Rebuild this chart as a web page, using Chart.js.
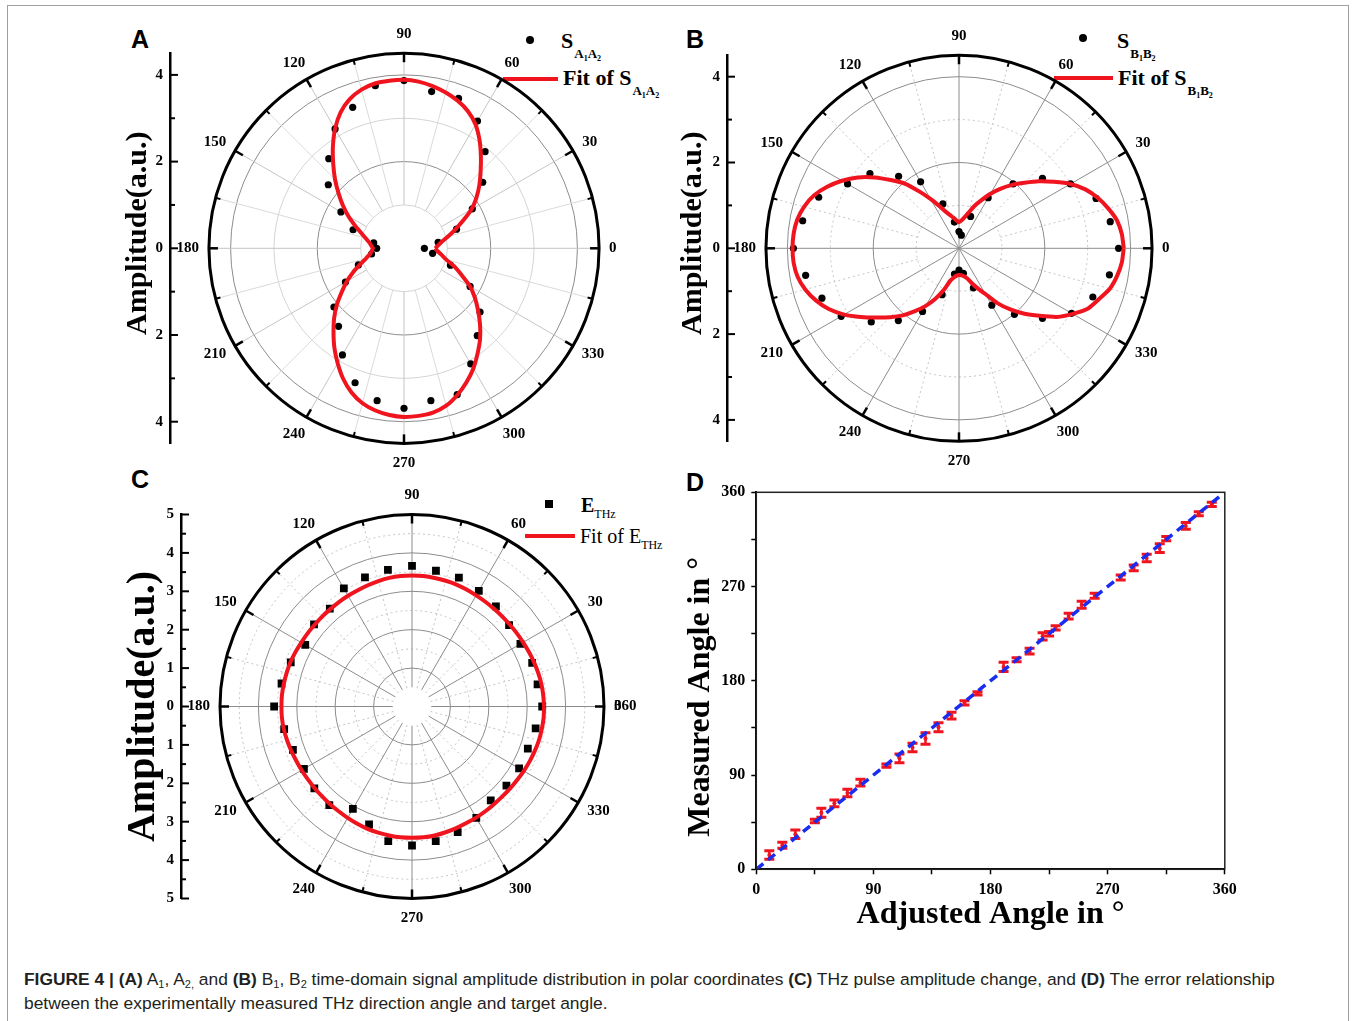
<!DOCTYPE html>
<html>
<head>
<meta charset="utf-8">
<title>Figure 4</title>
<script src="https://cdn.jsdelivr.net/npm/chart.js@4.4.1/dist/chart.umd.min.js"></script>
<style>
  html, body { margin: 0; padding: 0; background: #fff; }
  #page { position: relative; width: 1356px; height: 1021px; overflow: hidden; background: #fff; }
  #page canvas { position: absolute; }
  .frame { position: absolute; left: 7px; top: 5px; width: 1340px; height: 1100px; border: 1px solid #a0a0a0; }
  .tag { position: absolute; font: bold 25px/25px "Liberation Sans", Arial, sans-serif; color: #000; }
  .lg { position: absolute; font-family: "Liberation Serif", serif; font-weight: bold; font-size: 22px; line-height: 22px; white-space: nowrap; color: #000; }
  .lg.small { font-size: 20px; line-height: 20px; }
  .lg.thin { font-weight: normal; }
  .lg .s1 { font-size: 13px; position: relative; top: 10px; margin-left: 1px; }
  .lg .s2 { font-size: 8px; position: relative; top: 3px; }
  .lg .s3 { font-size: 12px; font-weight: normal; position: relative; top: 6px; }
  .mk { position: absolute; background: #000; }
  .fitline { position: absolute; height: 4px; background: #f0141e; }
  .cap { position: absolute; left: 24px; top: 967px; font-family: "Liberation Sans Narrow", "Liberation Sans", sans-serif; font-size: 17.4px; line-height: 24px; color: #231f20; white-space: nowrap; }
  .cap sub { font-size: 11px; vertical-align: -3px; line-height: 0; }
</style>
</head>
<body>
<div id="page">
  <div class="frame"></div>

  <div class="tag" style="left:131px; top:27px;">A</div>
  <div class="tag" style="left:686px; top:27px;">B</div>
  <div class="tag" style="left:131px; top:467px;">C</div>
  <div class="tag" style="left:686px; top:470px;">D</div>

  <!-- legend A -->
  <div class="mk" style="left:526px; top:36px; width:8px; height:8px; border-radius:50%;"></div>
  <div class="lg" style="left:561px; top:30px;">S<span class="s1">A<span class="s2">1</span>A<span class="s2">2</span></span></div>
  <div class="fitline" style="left:503px; top:77px; width:55px;"></div>
  <div class="lg" style="left:563px; top:67px;">Fit of S<span class="s1">A<span class="s2">1</span>A<span class="s2">2</span></span></div>

  <!-- legend B -->
  <div class="mk" style="left:1079px; top:34px; width:8px; height:8px; border-radius:50%;"></div>
  <div class="lg" style="left:1117px; top:30px;">S<span class="s1">B<span class="s2">1</span>B<span class="s2">2</span></span></div>
  <div class="fitline" style="left:1054px; top:76px; width:59px;"></div>
  <div class="lg" style="left:1118px; top:67px;">Fit of S<span class="s1">B<span class="s2">1</span>B<span class="s2">2</span></span></div>

  <!-- legend C -->
  <div class="mk" style="left:545px; top:500px; width:8px; height:8px;"></div>
  <div class="lg small" style="left:581px; top:495px;">E<span class="s3">THz</span></div>
  <div class="fitline" style="left:525px; top:534px; width:50px;"></div>
  <div class="lg small thin" style="left:580px; top:526px;">Fit of E<span class="s3">THz</span></div>

  <div class="cap"><b>FIGURE 4 | (A)</b> A<sub>1</sub>, A<sub>2,</sub> and <b>(B)</b> B<sub>1</sub>, B<sub>2</sub> time-domain signal amplitude distribution in polar coordinates <b>(C)</b> THz pulse amplitude change, and <b>(D)</b> The error relationship<br>between the experimentally measured THz direction angle and target angle.</div>
</div>

<script>
// ---- data ----
// measured points: one every 10 degrees
const anglesPts = [0, 10, 20, 30, 40, 50, 60, 70, 80, 90, 100, 110, 120, 130, 140, 150, 160, 170,
  180, 190, 200, 210, 220, 230, 240, 250, 260, 270, 280, 290, 300, 310, 320, 330, 340, 350];
// fitted curves: read every 5 degrees
const anglesFit = [0, 5, 10, 15, 20, 25, 30, 35, 40, 45, 50, 55, 60, 65, 70, 75, 80, 85,
  90, 95, 100, 105, 110, 115, 120, 125, 130, 135, 140, 145, 150, 155, 160, 165, 170, 175,
  180, 185, 190, 195, 200, 205, 210, 215, 220, 225, 230, 235, 240, 245, 250, 255, 260, 265,
  270, 275, 280, 285, 290, 295, 300, 305, 310, 315, 320, 325, 330, 335, 340, 345, 350, 355];
const angleLabels = [0, 30, 60, 90, 120, 150, 180, 210, 240, 270, 300, 330];

// (A) S_A1A2
const ampA = [0.47, 0.80, 1.29, 1.82, 2.37, 2.91, 3.39, 3.68, 3.67, 3.87, 3.81, 3.46, 3.18, 2.70, 2.28, 1.68, 1.25, 0.71,
  0.63, 0.76, 1.12, 1.56, 2.11, 2.35, 2.84, 3.30, 3.57, 3.69, 3.57, 3.59, 3.08, 2.63, 2.29, 1.76, 1.14, 0.67];
const fitA = [0.72, 0.79, 0.89, 1.05, 1.25, 1.50, 1.80, 2.04, 2.27, 2.50, 2.76, 3.04, 3.30, 3.49, 3.62, 3.72, 3.80, 3.86,
  3.89, 3.88, 3.86, 3.79, 3.66, 3.46, 3.18, 2.86, 2.54, 2.25, 1.97, 1.72, 1.48, 1.25, 1.06, 0.92, 0.82, 0.76,
  0.72, 0.75, 0.80, 0.91, 1.07, 1.29, 1.52, 1.75, 2.02, 2.28, 2.53, 2.80, 3.06, 3.32, 3.54, 3.70, 3.80, 3.86,
  3.89, 3.88, 3.85, 3.76, 3.60, 3.41, 3.20, 2.96, 2.73, 2.48, 2.23, 2.00, 1.76, 1.47, 1.24, 1.01, 0.88, 0.78];

// (B) S_B1B2
const ampB = [3.72, 3.58, 3.40, 3.00, 2.54, 1.96, 1.36, 0.79, 0.31, 0.39, 0.62, 1.10, 1.79, 2.19, 2.71, 3.00, 3.48, 3.70,
  3.86, 3.63, 3.40, 3.17, 2.67, 2.20, 1.70, 1.15, 0.61, 0.51, 0.59, 0.98, 1.53, 2.01, 2.54, 3.03, 3.32, 3.56];
const fitB = [3.84, 3.81, 3.74, 3.60, 3.44, 3.25, 3.00, 2.70, 2.43, 2.16, 1.93, 1.70, 1.47, 1.24, 1.05, 0.86, 0.73, 0.65,
  0.61, 0.65, 0.72, 0.80, 0.91, 1.09, 1.33, 1.62, 1.97, 2.25, 2.57, 2.88, 3.15, 3.39, 3.60, 3.74, 3.83, 3.87,
  3.88, 3.87, 3.82, 3.71, 3.55, 3.35, 3.09, 2.79, 2.51, 2.27, 2.04, 1.79, 1.55, 1.30, 1.03, 0.78, 0.69, 0.64,
  0.62, 0.63, 0.66, 0.72, 0.86, 1.03, 1.23, 1.56, 1.86, 2.16, 2.45, 2.79, 3.06, 3.32, 3.47, 3.64, 3.74, 3.81];

// (C) E_THz
const ampC = [3.39, 3.32, 3.33, 3.26, 3.30, 3.40, 3.48, 3.57, 3.59, 3.66, 3.61, 3.58, 3.55, 3.33, 3.33, 3.21, 3.36, 3.45,
  3.59, 3.38, 3.30, 3.25, 3.32, 3.35, 3.08, 3.27, 3.56, 3.62, 3.56, 3.48, 3.35, 3.19, 3.21, 3.22, 3.21, 3.27];
const fitC = [3.44, 3.43, 3.42, 3.40, 3.38, 3.36, 3.34, 3.33, 3.32, 3.32, 3.32, 3.33, 3.34, 3.36, 3.38, 3.39, 3.40, 3.41,
  3.41, 3.41, 3.40, 3.38, 3.36, 3.34, 3.33, 3.32, 3.31, 3.31, 3.31, 3.32, 3.33, 3.35, 3.37, 3.38, 3.39, 3.40,
  3.40, 3.40, 3.39, 3.37, 3.35, 3.33, 3.32, 3.31, 3.31, 3.31, 3.32, 3.33, 3.35, 3.37, 3.39, 3.40, 3.41, 3.42,
  3.42, 3.42, 3.41, 3.39, 3.37, 3.35, 3.34, 3.33, 3.32, 3.32, 3.33, 3.34, 3.36, 3.38, 3.40, 3.42, 3.43, 3.44];

const ampTicksAB = [-4, -2, 0, 2, 4];
const ampMinorAB = [-3, -1, 1, 3];
const ampTicksC = [-5, -4, -3, -2, -1, 0, 1, 2, 3, 4, 5];
const ampMinorC = [-4.5, -3.5, -2.5, -1.5, -0.5, 0.5, 1.5, 2.5, 3.5, 4.5];

// (D) measured vs adjusted angle
const adjusted = [10, 20, 30, 45, 50, 60, 70, 80, 100, 110, 120, 130, 140, 150, 160, 170,
  190, 200, 210, 220, 225, 230, 240, 250, 260, 280, 290, 300, 310, 315, 330, 340, 350];
const measured = [13.6, 22.9, 33.5, 46.1, 54.0, 63.0, 72.9, 82.7, 99.0, 106.0, 116.3, 125.0, 135.7, 146.7, 159.0, 168.0,
  193.2, 200.2, 208.3, 222.5, 224.9, 230.5, 241.8, 252.6, 261.2, 278.7, 287.9, 297.3, 306.6, 315.8, 327.9, 339.6, 348.4];
const measuredErr = [4.1, 2.9, 4.0, 1.6, 4.2, 3.2, 3.6, 3.2, 1.6, 4.2, 4.0, 5.5, 4.3, 3.2, 2.0, 1.6,
  4.4, 1.9, 2.7, 3.5, 2.1, 2.0, 2.7, 3.4, 2.4, 2.4, 2.7, 3.5, 4.2, 2.0, 3.2, 1.9, 2.0];
const refLine = [0, 360];
const ticksD = [0, 45, 90, 135, 180, 225, 270, 315, 360];

// ---- styling ----
const SERIF = '"Liberation Serif", "Times New Roman", serif';
const RED = '#f0141e';
const BLUE = '#1a2cf0';
const DEG = Math.PI / 180;

function toXY(angles, radii, close) {
  const pts = angles.map((a, i) => ({ x: radii[i] * Math.cos(a * DEG), y: radii[i] * Math.sin(a * DEG) }));
  if (close) pts.push(pts[0]);
  return pts;
}

function addCanvas(box) {
  const c = document.createElement('canvas');
  c.width = box.w;
  c.height = box.h;
  c.style.left = box.x + 'px';
  c.style.top = box.y + 'px';
  document.getElementById('page').appendChild(c);
  return c;
}

function polarGeom(chart) {
  const xs = chart.scales.x, ys = chart.scales.y;
  const cx = xs.getPixelForValue(0), cy = ys.getPixelForValue(0);
  return { cx, cy, kx: xs.getPixelForValue(1) - cx, ky: cy - ys.getPixelForValue(1) };
}

// polar grid, outer ring, angle labels, inner ticks of the amplitude axis
function polarDecor(p) {
  return {
    id: 'polarDecor',
    beforeDatasetsDraw(chart) {
      const { ctx } = chart;
      const { cx, cy, kx, ky } = polarGeom(chart);
      ctx.save();
      ctx.lineWidth = 1;
      p.rings.forEach(([r, color, dash]) => {
        ctx.setLineDash(dash);
        ctx.strokeStyle = color;
        ctx.beginPath();
        ctx.ellipse(cx, cy, r * kx, r * ky, 0, 0, Math.PI * 2);
        ctx.stroke();
      });
      for (let a = 0; a < 360; a += 15) {
        const [r0, color, dash] = a % 30 === 0 ? p.spokeMajor : p.spokeMinor;
        const c = Math.cos(a * DEG), s = Math.sin(a * DEG);
        ctx.setLineDash(dash);
        ctx.strokeStyle = color;
        ctx.beginPath();
        ctx.moveTo(cx + r0 * kx * c, cy - r0 * ky * s);
        ctx.lineTo(cx + p.rMax * kx * c, cy - p.rMax * ky * s);
        ctx.stroke();
      }
      ctx.restore();
    },
    afterDraw(chart) {
      const { ctx, chartArea } = chart;
      const { cx, cy, kx, ky } = polarGeom(chart);
      const R = p.rMax;
      ctx.save();
      ctx.setLineDash([]);
      ctx.strokeStyle = '#000';
      ctx.lineWidth = 3;
      ctx.beginPath();
      ctx.ellipse(cx, cy, R * kx, R * ky, 0, 0, Math.PI * 2);
      ctx.stroke();
      for (let a = 0; a < 360; a += 15) {
        const major = a % 30 === 0, len = major ? 9 : 5;
        const c = Math.cos(a * DEG), s = Math.sin(a * DEG);
        ctx.lineWidth = major ? 2.5 : 2;
        ctx.beginPath();
        ctx.moveTo(cx + R * kx * c, cy - R * ky * s);
        ctx.lineTo(cx + (R * kx - len) * c, cy - (R * ky - len) * s);
        ctx.stroke();
      }

      ctx.fillStyle = '#000';
      ctx.font = 'bold 15px ' + SERIF;
      ctx.textBaseline = 'middle';
      angleLabels.forEach(a => {
        const c = Math.cos(a * DEG), s = Math.sin(a * DEG);
        const gap = 10 + 4 * Math.abs(s);
        if (a === 0) {
          ctx.textAlign = 'left';
          p.zeroLabels.forEach(t => ctx.fillText(t, cx + R * kx + gap, cy));
          return;
        }
        const txt = String(a), w = ctx.measureText(txt).width;
        ctx.textAlign = 'center';
        ctx.fillText(txt, cx + (R * kx + gap) * c + c * w / 2, cy - (R * ky + gap) * s - s * 5.5);
      });

      // ticks of the amplitude axis point into the plot
      const ys = chart.scales.y, x0 = chartArea.left;
      ctx.lineWidth = 2;
      p.ampTicks.forEach(v => {
        const y = ys.getPixelForValue(v);
        ctx.beginPath(); ctx.moveTo(x0, y); ctx.lineTo(x0 + 8, y); ctx.stroke();
      });
      p.ampMinor.forEach(v => {
        const y = ys.getPixelForValue(v);
        ctx.beginPath(); ctx.moveTo(x0, y); ctx.lineTo(x0 + 5, y); ctx.stroke();
      });
      ctx.restore();
    }
  };
}

function makePolar(p) {
  const cv = addCanvas(p.box);
  const yw = p.axisX - p.box.x;
  const half = (p.center[0] - p.axisX) / p.unit;
  const areaRight = 2 * p.center[0] - p.axisX - p.box.x;
  const top = p.center[1] - p.rMax * p.unit - p.box.y;
  const bottom = p.center[1] + p.rMax * p.unit - p.box.y;

  return new Chart(cv, {
    type: 'scatter',
    data: {
      datasets: [
        {
          data: toXY(anglesFit, p.fit, true),
          showLine: true,
          borderColor: RED,
          borderWidth: 4,
          borderJoinStyle: 'round',
          tension: 0.2,
          pointRadius: 0,
          fill: false
        },
        {
          data: toXY(anglesPts, p.radii, false),
          pointStyle: p.pointStyle,
          pointRadius: p.pointRadius,
          backgroundColor: '#000',
          borderColor: '#000',
          borderWidth: 0
        }
      ]
    },
    options: {
      responsive: false,
      animation: false,
      devicePixelRatio: 1,
      layout: { padding: { left: 0, top: top, right: p.box.w - areaRight, bottom: p.box.h - bottom } },
      plugins: { legend: { display: false }, tooltip: { enabled: false } },
      scales: {
        x: { type: 'linear', display: false, min: -half, max: half },
        y: {
          type: 'linear',
          position: 'left',
          min: -p.rMax,
          max: p.rMax,
          afterFit: s => { s.width = yw; },
          afterBuildTicks: s => { s.ticks = p.ampTicks.map(v => ({ value: v })); },
          ticks: {
            callback: v => Math.abs(v),
            color: '#000',
            padding: 7,
            font: { family: SERIF, weight: 'bold', size: 15 }
          },
          grid: { drawOnChartArea: false, drawTicks: false },
          border: { display: true, color: '#000', width: 2.5 },
          title: {
            display: true,
            text: p.title,
            color: '#000',
            padding: { top: 10, bottom: 0 },
            font: { family: SERIF, weight: 'bold', size: p.titleSize }
          }
        }
      }
    },
    plugins: [polarDecor(p)]
  });
}

const NB = '\u00a0\u00a0\u00a0\u00a0';

makePolar({
  box: { x: 110, y: 0, w: 560, h: 480 },
  center: [404, 248.3], unit: 43.35, axisX: 170, rMax: 4.5,
  title: NB + 'Amplitude(a.u.)', titleSize: 30,
  ampTicks: ampTicksAB, ampMinor: ampMinorAB,
  radii: ampA, fit: fitA, pointStyle: 'circle', pointRadius: 3.6,
  rings: [[1, '#d4d4d4', []], [2, '#8c8c8c', []], [3, '#d4d4d4', []], [4, '#8c8c8c', []]],
  spokeMajor: [1, '#c4c4c4', []], spokeMinor: [1, '#dadada', []],
  zeroLabels: ['0']
});

makePolar({
  box: { x: 665, y: 0, w: 590, h: 480 },
  center: [959, 248.3], unit: 42.9, axisX: 727, rMax: 4.5,
  title: NB + 'Amplitude(a.u.)', titleSize: 30,
  ampTicks: ampTicksAB, ampMinor: ampMinorAB,
  radii: ampB, fit: fitB, pointStyle: 'circle', pointRadius: 3.6,
  rings: [[1, '#c4c4c4', [2, 3]], [2, '#8c8c8c', []], [3, '#c4c4c4', [2, 3]], [4, '#8c8c8c', []]],
  spokeMajor: [0, '#8c8c8c', []], spokeMinor: [1, '#c4c4c4', [2, 3]],
  zeroLabels: ['0']
});

makePolar({
  box: { x: 110, y: 460, w: 600, h: 480 },
  center: [412, 706.5], unit: 38.4, axisX: 181, rMax: 5,
  title: 'Amplitude(a.u.)', titleSize: 40,
  ampTicks: ampTicksC, ampMinor: ampMinorC,
  radii: ampC, fit: fitC, pointStyle: 'rect', pointRadius: 5.5,
  rings: [[1, '#8c8c8c', []], [1.5, '#c4c4c4', [2, 3]], [2, '#8c8c8c', []], [2.5, '#c4c4c4', [2, 3]],
    [3, '#8c8c8c', []], [3.5, '#c4c4c4', [2, 3]], [4, '#8c8c8c', []], [4.5, '#c4c4c4', [2, 3]]],
  spokeMajor: [0.5, '#8c8c8c', []], spokeMinor: [0.5, '#c4c4c4', [2, 3]],
  zeroLabels: ['0', '360']
});

// ---- panel D ----
const boxD = { x: 672, y: 470, w: 600, h: 470 };
const areaD = { left: 756.3, top: 492.3, right: 1224.8, bottom: 869.3 };

const errorBars = {
  id: 'errorBars',
  beforeDatasetsDraw(chart) {
    const { ctx } = chart, xs = chart.scales.x, ys = chart.scales.y;
    ctx.save();
    ctx.strokeStyle = RED;
    adjusted.forEach((a, i) => {
      const x = xs.getPixelForValue(a);
      const y1 = ys.getPixelForValue(measured[i] - measuredErr[i]);
      const y2 = ys.getPixelForValue(measured[i] + measuredErr[i]);
      ctx.lineWidth = 2.5;
      ctx.beginPath(); ctx.moveTo(x, y1); ctx.lineTo(x, y2); ctx.stroke();
      ctx.lineWidth = 3;
      ctx.beginPath();
      ctx.moveTo(x - 5, y1); ctx.lineTo(x + 5, y1);
      ctx.moveTo(x - 5, y2); ctx.lineTo(x + 5, y2);
      ctx.stroke();
    });
    ctx.restore();
  },
  afterDraw(chart) {
    const { ctx, chartArea: a } = chart;
    ctx.save();
    ctx.strokeStyle = '#222';
    ctx.lineWidth = 1.5;
    ctx.strokeRect(a.left, a.top, a.right - a.left, a.bottom - a.top);
    ctx.restore();
  }
};

const axisD = (title, pad) => ({
  type: 'linear',
  min: 0,
  max: 360,
  afterBuildTicks: s => { s.ticks = ticksD.map(v => ({ value: v })); },
  ticks: {
    callback: v => (v % 90 === 0 ? v : ''),
    color: '#000',
    padding: 6,
    maxRotation: 0,
    font: { family: SERIF, weight: 'bold', size: 16 }
  },
  grid: { drawOnChartArea: false, tickLength: 5, tickColor: '#000', tickWidth: 1.5 },
  border: { display: true, color: '#000', width: 2 },
  title: {
    display: true,
    text: title,
    color: '#000',
    padding: pad,
    font: { family: SERIF, weight: 'bold', size: 32 }
  }
});

const scaleX = axisD('Adjusted Angle in °', { top: 0, bottom: 6 });
scaleX.afterFit = s => { s.height = boxD.y + boxD.h - areaD.bottom; };
const scaleY = axisD('Measured Angle in °' + NB, { top: 10, bottom: 0 });
scaleY.afterFit = s => { s.width = areaD.left - boxD.x; };

new Chart(addCanvas(boxD), {
  type: 'scatter',
  data: {
    datasets: [
      {
        data: refLine.map(v => ({ x: v, y: v })),
        showLine: true,
        borderColor: BLUE,
        borderWidth: 3.5,
        borderDash: [9, 6],
        pointRadius: 0
      },
      {
        data: adjusted.map((a, i) => ({ x: a, y: measured[i] })),
        pointRadius: 2,
        backgroundColor: RED,
        borderWidth: 0
      }
    ]
  },
  options: {
    responsive: false,
    animation: false,
    devicePixelRatio: 1,
    layout: { padding: { left: 0, top: areaD.top - boxD.y, right: boxD.x + boxD.w - areaD.right, bottom: 0 } },
    plugins: { legend: { display: false }, tooltip: { enabled: false } },
    scales: { x: scaleX, y: scaleY }
  },
  plugins: [errorBars]
});
</script>
</body>
</html>
